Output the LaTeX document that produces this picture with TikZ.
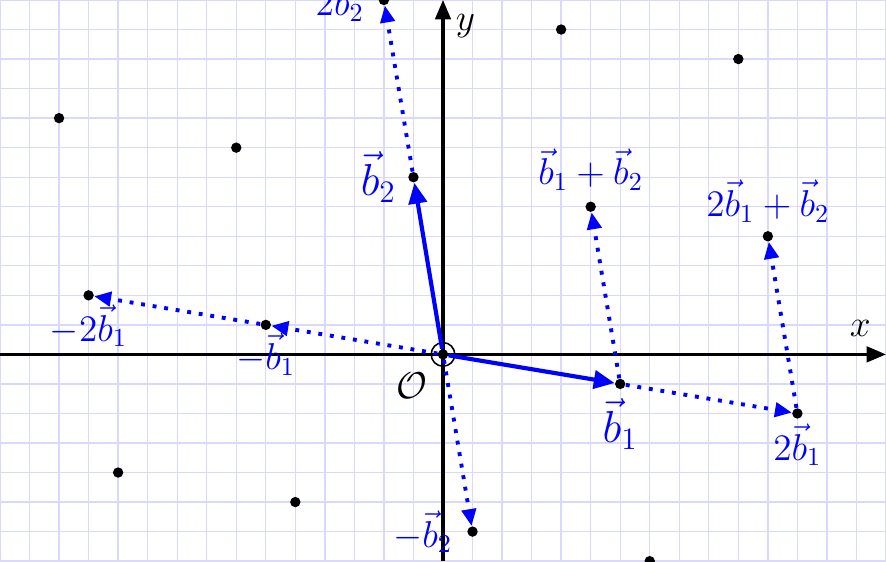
\documentclass[tikz,border=0pt]{standalone}
\usepackage{amsmath, amssymb}
\usetikzlibrary{arrows.meta,positioning}

\tikzset{
  dot/.style={circle, fill=black, inner sep=0pt, minimum size=4pt},
  vec/.style={blue, line width=1.6pt, -{Triangle[length=8pt,width=7pt]}},
  dotvec/.style={blue, line width=1.5pt, dash pattern=on 1.5pt off 3pt, -{Triangle[length=6.5pt,width=5.5pt]}},
  lbl/.style={blue, font=\Large},
  biglbl/.style={blue, font=\LARGE}
}

\begin{document}
\begin{tikzpicture}[scale=0.4]
        \clip (-15,-7) rectangle (15,12);
        % Grid
        \draw[blue!15, line width=0.5pt] (-15,-7) grid (15,12);
        % Coordinate system
        \draw[very thick, -{Triangle[length=7.5pt,width=6pt]}] (-15,0) -- (15,0) node[above left, xshift=-2pt, yshift=3pt] {\Large $x$};
        \draw[very thick, -{Triangle[length=7.5pt,width=6pt]}] (0,-7) -- (0,12) node[below right, xshift=1pt, yshift=-1.5pt] {\Large $y$};
        % Lattice points m*b1 + n*b2
        \foreach \m/\n/\name in {0/0/O, 1/0/b1, 2/0/tb1, -1/0/mb1, -2/0/mtb1, 0/1/b2, 0/2/tb2, 0/-1/mb2,
                1/1/s, 2/1/ts, 1/2/p12, 2/2/p22, -2/1/pm21, -1/1/pm11, -2/-1/pm2m1, -1/-1/pm1m1, 1/-1/p1m1} {
                \node[dot] (\name) at ({6*\m-\n},{6*\n-\m}) {};
            }
        \draw[semithick] (O.center) circle (0.4);
        % Basis vectors
        \draw[vec] (O) -- (b1);
        \draw[vec] (O) -- (b2);
        % Multiples and sums
        \draw[dotvec] (O) -- (mb1);
        \draw[dotvec] (mb1) -- (mtb1);
        \draw[dotvec] (O) -- (mb2);
        \draw[dotvec] (b1) -- (tb1);
        \draw[dotvec] (b1) -- (s);
        \draw[dotvec] (tb1) -- (ts);
        \draw[dotvec] (b2) -- (tb2);
        % Labels
        \node[below left=2pt and 1pt of O] (Olbl) {\Large $\mathcal{O}$};
        \node[biglbl, left=1pt of b2] (b2lbl) {$\vec{b}_2$};
        \node[biglbl, below=0pt of b1] (b1lbl) {$\vec{b}_1$};
        \node[lbl, below=-1.8pt of tb1] (tb1lbl) {$2\vec{b}_1$};
        \node[lbl, below=-2.1pt of mtb1] (mtb1lbl) {$-2\vec{b}_1$};
        \node[lbl, below=-2.6pt of mb1] (mb1lbl) {$-\vec{b}_1$};
        \node[lbl, left=2.1pt of mb2] (mb2lbl) {$-\vec{b}_2$};
        \node[lbl, left=2pt of tb2] (tb2lbl) {$2\vec{b}_2$};
        \node[lbl, above=0.5pt of s] (slbl) {$\vec{b}_1+\vec{b}_2$};
        \node[lbl, above=-0.4pt of ts] (tslbl) {$2\vec{b}_1+\vec{b}_2$};
    \end{tikzpicture}
\end{document}
